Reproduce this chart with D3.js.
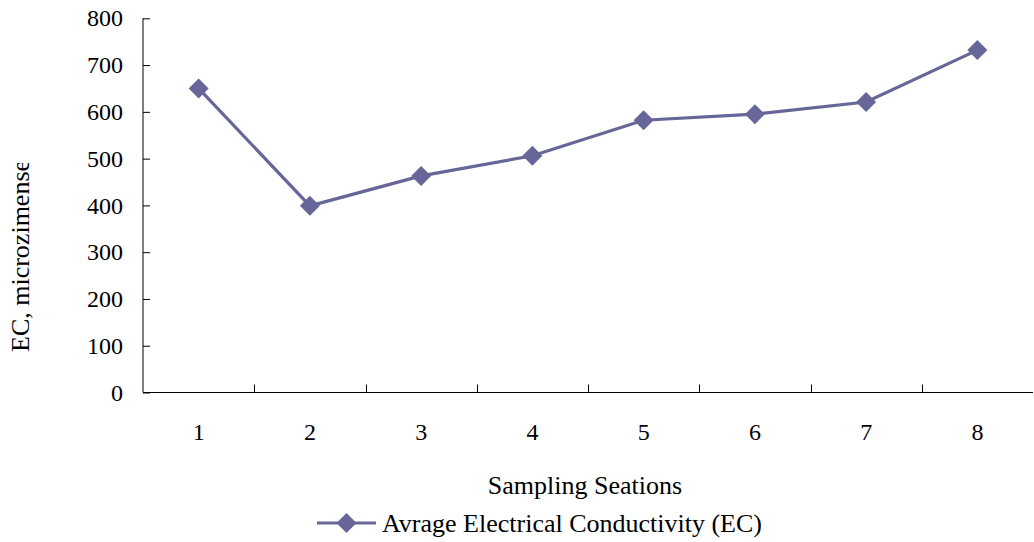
<!DOCTYPE html>
<html><head><meta charset="utf-8">
<script src="https://cdn.jsdelivr.net/npm/d3@7/dist/d3.min.js"></script>
<style>body{margin:0;background:#fff}svg{display:block}text{font-family:"Liberation Serif","Times New Roman",serif;fill:#000}</style>
</head><body><svg id="c" width="1034" height="542"></svg>
<script>
const categories = ["1","2","3","4","5","6","7","8"];
const ecValues = [650, 399, 463, 506, 582, 595, 621, 732];
const yTicks = [0,100,200,300,400,500,600,700,800];
const seriesName = "Avrage Electrical Conductivity (EC)";
const xTitle = "Sampling Seations";
const yTitle = "EC, microzimense";

const svg = d3.select("#c");
const L = 143, R = 1033, T = 18.3, B = 392.5;
const color = "#666699";
const x = d3.scaleBand().domain(categories).range([L, R]);
const y = d3.scaleLinear().domain([0, 800]).range([B, T]);
const fs = 24;

// y axis
const ya = svg.append("g").attr("transform", `translate(${L},0)`)
  .call(d3.axisLeft(y).tickValues(yTicks).tickSize(-7).tickPadding(20).tickFormat(d3.format("d")));
ya.select(".domain").attr("stroke","#000").attr("d", `M0,${T}V${B}`);
ya.selectAll(".tick line").attr("stroke","#000");
ya.selectAll("text").attr("font-size", fs).attr("font-family","Liberation Serif").attr("fill","#000");

// x axis
const xa = svg.append("g").attr("transform", `translate(0,${B})`)
  .call(d3.axisBottom(x).tickSize(0).tickPadding(30));
xa.select(".domain").attr("stroke","#000").attr("d", `M${L},0H${R}`);
xa.selectAll("text").attr("font-size", fs).attr("font-family","Liberation Serif").attr("fill","#000");
// boundary ticks (inside)
xa.selectAll(".btick").data(categories.slice(1)).enter().append("line")
  .attr("x1", d => Math.round(x(d)) + 0.5).attr("x2", d => Math.round(x(d)) + 0.5)
  .attr("y1", 0).attr("y2", -8).attr("stroke","#000");

// line
const line = d3.line().x((d,i) => x(categories[i]) + x.bandwidth()/2).y(d => y(d));
svg.append("path").datum(ecValues).attr("d", line)
  .attr("fill","none").attr("stroke", color).attr("stroke-width", 3.2);
const diamond = d3.symbol().type(d3.symbolSquare).size(200);
svg.selectAll(".pt").data(ecValues).enter().append("path")
  .attr("d", diamond)
  .attr("transform", (d,i) => `translate(${x(categories[i]) + x.bandwidth()/2},${y(d)}) rotate(45)`)
  .attr("fill", color);

// titles
svg.append("text").attr("x", 585).attr("y", 494).attr("text-anchor","middle")
  .attr("font-size", 26).text(xTitle);
svg.append("clipPath").attr("id","yclip").append("rect").attr("x",0).attr("y",163).attr("width",60).attr("height",300);
svg.append("g").attr("clip-path","url(#yclip)").append("text")
  .attr("transform","translate(29,352) rotate(-90)").attr("text-anchor","start")
  .attr("font-size", 26).text(yTitle);

// legend
svg.append("line").attr("x1",317).attr("x2",376).attr("y1",523).attr("y2",523)
  .attr("stroke", color).attr("stroke-width", 3.2);
svg.append("path").attr("d", diamond).attr("transform","translate(346.5,523) rotate(45)").attr("fill", color);
svg.append("text").attr("x",382).attr("y",532).attr("font-size",26).text(seriesName);
</script></body></html>
